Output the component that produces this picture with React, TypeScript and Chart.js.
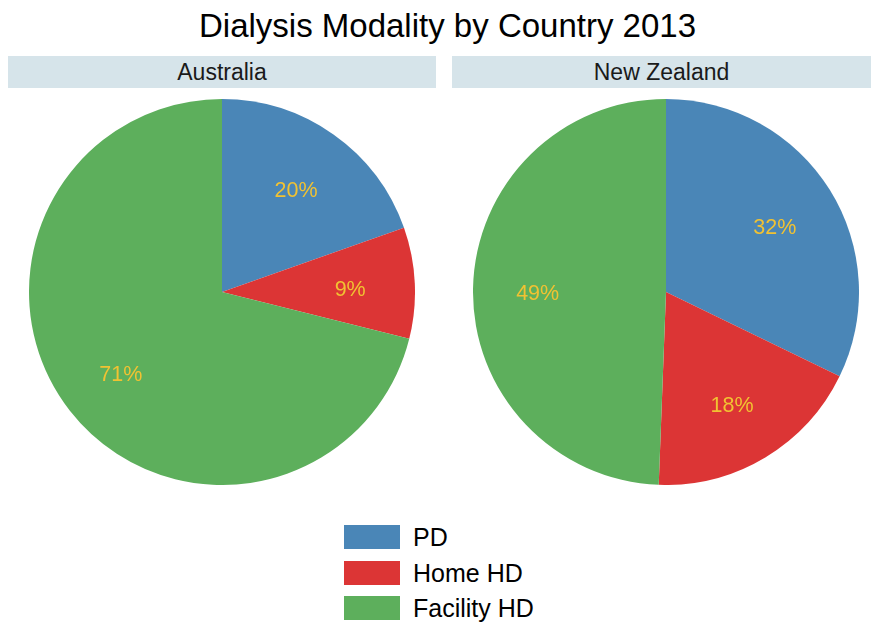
import React, { useEffect, useRef } from "react";
import { Chart, registerables } from "chart.js";

Chart.register(...registerables);

const TITLE = "Dialysis Modality by Country 2013";
const CATEGORIES = ["PD", "Home HD", "Facility HD"];
const COLORS = ["#4a86b7", "#dc3535", "#5daf5c"];
const COUNTRIES = ["Australia", "New Zealand"];
const AUSTRALIA_VALUES = [19.6, 9.3, 71.1];
const NEW_ZEALAND_VALUES = [32.2, 18.4, 49.4];
const LABEL_COLOR = "#f1c232";
const FONT = "'Liberation Sans', Arial, sans-serif";

const pctLabels = {
  id: "pctLabels",
  afterDatasetsDraw(chart: any) {
    const ctx = chart.ctx;
    const meta = chart.getDatasetMeta(0);
    const data = chart.data.datasets[0].data as number[];
    const total = data.reduce((a, b) => a + b, 0);
    ctx.save();
    ctx.fillStyle = LABEL_COLOR;
    ctx.font = `21.5px ${FONT}`;
    ctx.textAlign = "center";
    ctx.textBaseline = "middle";
    meta.data.forEach((arc: any, i: number) => {
      const p = arc.getProps(["x", "y", "startAngle", "endAngle", "outerRadius"], true);
      const mid = (p.startAngle + p.endAngle) / 2;
      const r = p.outerRadius * 0.665;
      const x = p.x + Math.cos(mid) * r;
      const y = p.y + Math.sin(mid) * r + 4;
      ctx.fillText(Math.round((data[i] / total) * 100) + "%", x, y);
    });
    ctx.restore();
  },
};

function Pie({ values, left }: { values: number[]; left: number }) {
  const ref = useRef<HTMLCanvasElement>(null);
  useEffect(() => {
    if (!ref.current) return;
    const chart = new Chart(ref.current, {
      type: "pie",
      data: {
        labels: CATEGORIES,
        datasets: [{ data: values, backgroundColor: COLORS, borderWidth: 0, hoverOffset: 0 }],
      },
      options: {
        responsive: false,
        animation: false,
        devicePixelRatio: 1,
        layout: { padding: 0 },
        events: [],
        plugins: { legend: { display: false }, tooltip: { enabled: false }, title: { display: false } },
      },
      plugins: [pctLabels],
    });
    return () => chart.destroy();
  }, [values]);
  return (
    <canvas
      ref={ref}
      width={386}
      height={386}
      style={{ position: "absolute", left, top: 99, width: 386, height: 386 }}
    />
  );
}

export default function App() {
  const stripStyle = (left: number, width: number): React.CSSProperties => ({
    position: "absolute",
    left,
    top: 56,
    width,
    height: 32,
    background: "#d6e4ea",
    color: "#1a1a1a",
    font: `23px ${FONT}`,
    lineHeight: "32px",
    textAlign: "center",
  });
  return (
    <div style={{ position: "absolute", left: 0, top: 0, width: 872, height: 623, background: "#fff", fontFamily: FONT, overflow: "hidden" }}>
      <div style={{ position: "absolute", left: 16, top: 6, width: 863, textAlign: "center", font: `33px ${FONT}`, color: "#000", lineHeight: "40px" }}>
        {TITLE}
      </div>
      <div style={stripStyle(8, 428)}>{COUNTRIES[0]}</div>
      <div style={stripStyle(452, 419)}>{COUNTRIES[1]}</div>
      <Pie values={AUSTRALIA_VALUES} left={29} />
      <Pie values={NEW_ZEALAND_VALUES} left={473} />
      {CATEGORIES.map((c, i) => (
        <div key={c} style={{ position: "absolute", left: 344, top: 525 + i * 35.5, height: 24 }}>
          <div style={{ position: "absolute", left: 0, top: 0, width: 56, height: 24, background: COLORS[i] }} />
          <div style={{ position: "absolute", left: 69, top: -2, whiteSpace: "nowrap", font: `25px ${FONT}`, lineHeight: "28px", color: "#000" }}>
            {c}
          </div>
        </div>
      ))}
    </div>
  );
}
